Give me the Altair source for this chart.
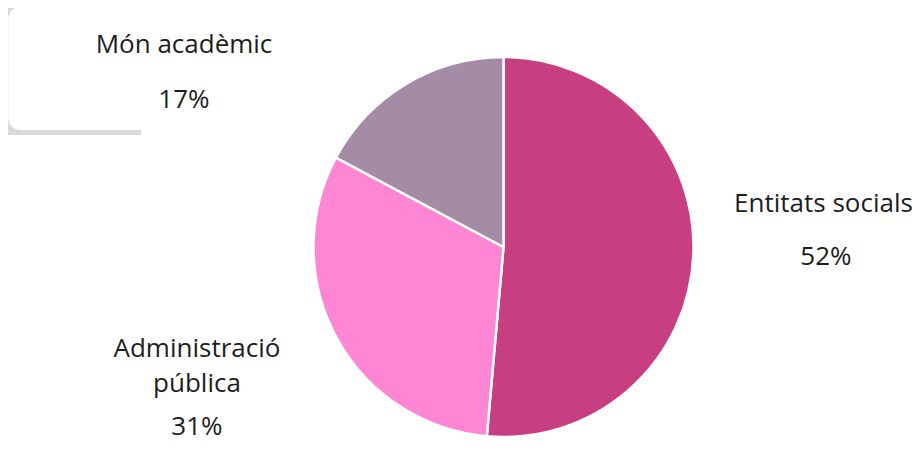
import altair as alt
import pandas as pd

# ---- data ----
categories = ["Entitats socials", "Administració pública", "Món acadèmic"]
values = [51.4, 31.4, 17.2]
pct_labels = ["52%", "31%", "17%"]
colors = ["#C73F80", "#FF85D5", "#A48BA6"]

total = sum(values)
df = pd.DataFrame({
    "cat": categories,
    "value": values,
    "pct": pct_labels,
    "idx": list(range(len(categories))),
})

FONT = "Open Sans"
FS = 26
TXT = "#1d1d1d"
CX, CY = 495.5, 239   # pie centre within the plot area
R_PIE = 190
R_LAB = 230

theta_scale = alt.Scale(domain=[0, total])

base = alt.Chart(df)

# decorative grey frame (top-left)
frame_data = alt.Data(values=[{}])
grey = alt.Chart(frame_data).mark_rect(color="#D9D9D9").encode(
    x=alt.value(0), x2=alt.value(133), y=alt.value(0), y2=alt.value(127)
)
white = alt.Chart(frame_data).mark_rect(color="white", cornerRadius=12).encode(
    x=alt.value(0.3), x2=alt.value(300), y=alt.value(-1), y2=alt.value(122)
)

arcs = base.mark_arc(radius=R_PIE, stroke="white", strokeWidth=2.5).encode(
    theta=alt.Theta("value:Q", stack=True, scale=theta_scale),
    color=alt.Color("cat:N", scale=alt.Scale(domain=categories, range=colors), legend=None),
    order=alt.Order("idx:Q"),
    x=alt.value(CX),
    y=alt.value(CY),
)

tbase = base.transform_window(
    cum="sum(value)", sort=[alt.SortField("idx", order="ascending")]
).transform_calculate(mid="datum.cum - datum.value / 2")


def text_layer(cat, field, dx, dy, **kw):
    return tbase.transform_filter(alt.datum.cat == cat).mark_text(
        radius=R_LAB, dx=dx, dy=dy, align="center", baseline="alphabetic",
        font=FONT, fontSize=FS, color=TXT, **kw
    ).encode(
        theta=alt.Theta("mid:Q", stack=None, scale=theta_scale),
        text=alt.Text(f"{field}:N"),
        x=alt.value(CX),
        y=alt.value(CY),
    )


layers = [
    grey, white, arcs,
    text_layer("Entitats socials", "cat", 90.2, -45.4),
    text_layer("Entitats socials", "pct", 92.7, 7.9),
    text_layer("Administració pública", "cat", -104.3, 0.2, lineBreak=" ", lineHeight=35),
    text_layer("Administració pública", "pct", -104.3, 78.5),
    text_layer("Món acadèmic", "cat", -201.2, 3.5),
    text_layer("Món acadèmic", "pct", -201.2, 58.5),
]

chart = alt.layer(*layers).properties(
    width=907, height=434, padding=0, autosize=alt.AutoSizeParams(type="none")
).configure_view(stroke=None)

chart.save("out.html", embed_options={"renderer": "svg", "actions": False})
